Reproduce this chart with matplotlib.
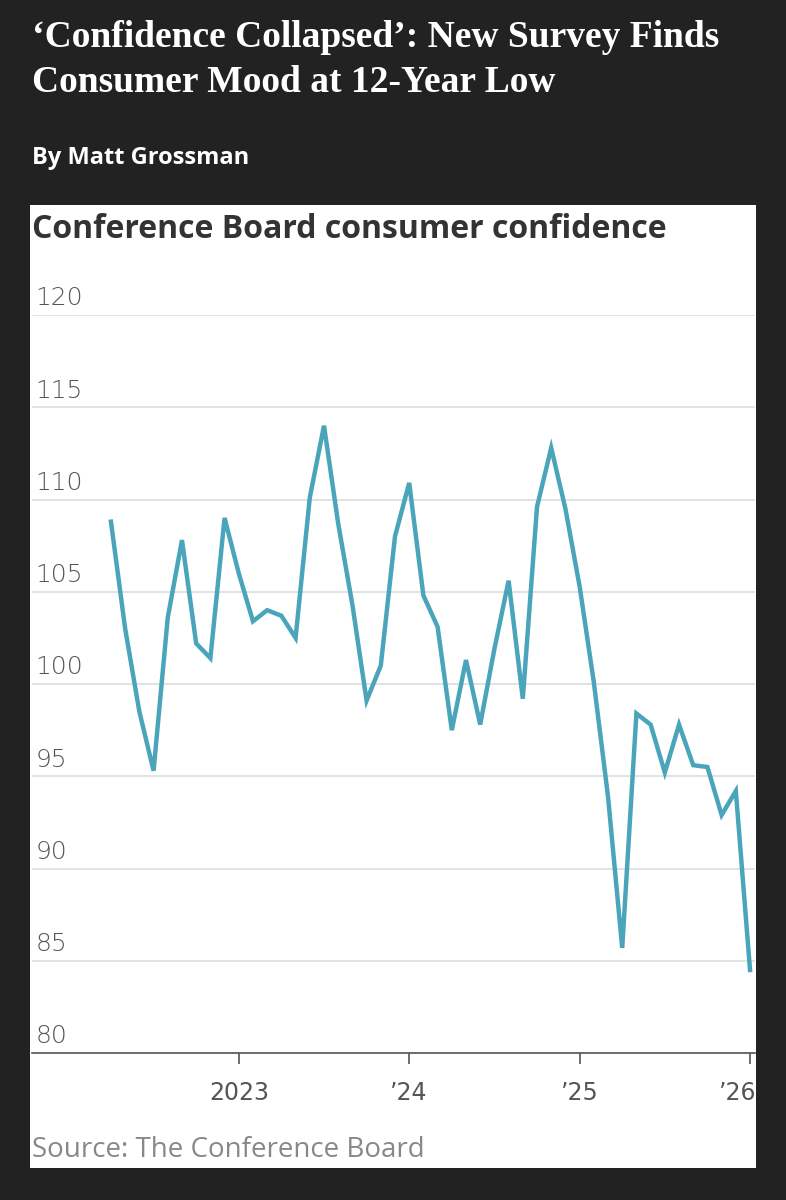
import matplotlib
matplotlib.use('Agg')
import matplotlib.pyplot as plt
from matplotlib.patches import Rectangle
from matplotlib.transforms import ScaledTranslation

# monthly index, Apr 2022 .. Jan 2026
values = [108.8, 103.0, 98.5, 95.3, 103.6, 107.8, 102.2, 101.4, 109.0,
          106.0, 103.4, 104.0, 103.7, 102.5, 110.1, 114.0, 108.7, 104.3, 99.1, 101.0, 108.0,
          110.9, 104.8, 103.1, 97.5, 101.3, 97.8, 101.9, 105.6, 99.2, 109.6, 112.8, 109.5,
          105.3, 100.1, 93.9, 85.7, 98.4, 97.8, 95.2, 97.8, 95.6, 95.5, 92.9, 94.2,
          84.5]
year_pos = [9, 21, 33, 45]
year_labels = ['2023', '\u201924', '\u201925', '\u201926']
yticks = [80, 85, 90, 95, 100, 105, 110, 115, 120]

W, H = 786, 1200
fig = plt.figure(figsize=(W/100, H/100), dpi=100)
fig.patch.set_facecolor('#222222')

fig.text(32/W, 1-60/H, '\u2018Confidence Collapsed\u2019: New Survey Finds\nConsumer Mood at 12-Year Low',
         color='white', fontsize=27, fontweight='bold', family='Liberation Serif',
         va='center', linespacing=1.4)
fig.text(32/W, 1-158/H, 'By Matt Grossman', color='white', fontsize=17,
         fontweight='bold', family='Open Sans', va='center')

fig.patches.append(Rectangle((30/W, 1-1168/H), 726/W, 963/H, transform=fig.transFigure,
                             facecolor='white', edgecolor='none', zorder=-1))
fig.text(32/W, 1-230/H, 'Conference Board consumer confidence', color='#333333',
         fontsize=23, fontweight='bold', family='Open Sans', va='center')
fig.text(32/W, 1-1150/H, 'Source: The Conference Board', color='#888888',
         fontsize=20, family='Open Sans', va='center')

ax = fig.add_axes([32/W, 1-1053/H, 723/W, 738/H])
ax.set_zorder(2)
ax.set_facecolor('white')
ax.set_ylim(80, 120)
ax.set_xlim(-5.56, 45.35)
for v in yticks:
    ax.axhline(v, color='#dddddd', lw=1.2, zorder=1)
    ax.text(0.005, v + 0.25, str(v), transform=ax.get_yaxis_transform(), color='#555555',
            fontsize=18, family='DejaVu Sans', fontweight='light', va='bottom', ha='left')
ax.plot(range(len(values)), values, color='#4aa5bb', lw=3.2, zorder=3, solid_joinstyle='miter')
for s in ['top', 'right', 'left']:
    ax.spines[s].set_visible(False)
ax.spines['bottom'].set_color('#555555')
ax.spines['bottom'].set_linewidth(1.2)
ax.set_yticks([])
ax.set_xticks(year_pos)
ax.set_xticklabels(year_labels, color='#555555', fontsize=17, family='DejaVu Sans')
ax.tick_params(axis='x', length=8, width=1.2, color='#555555', pad=12)
last = ax.get_xticklabels()[-1]
last.set_transform(last.get_transform() + ScaledTranslation(-0.12, 0, fig.dpi_scale_trans))

fig.savefig('out.png', dpi=100, facecolor=fig.get_facecolor())
